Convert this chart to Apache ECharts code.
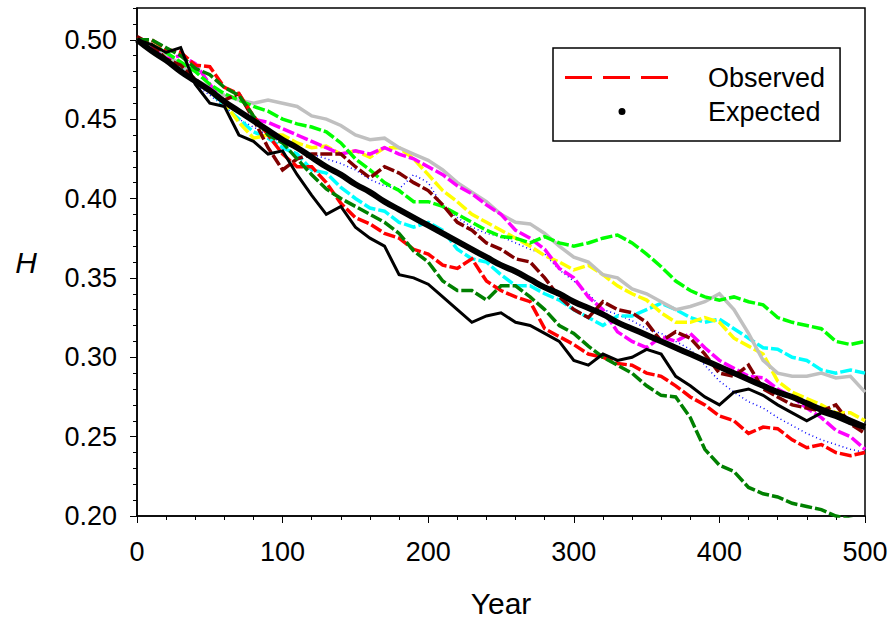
<!DOCTYPE html>
<html>
<head>
<meta charset="UTF-8">
<title>H over time</title>
<script src="https://cdn.jsdelivr.net/npm/echarts@6.0.0/dist/echarts.min.js"></script>
<style>
  html, body { margin: 0; padding: 0; background: #fff; }
  #main { width: 891px; height: 620px; }
</style>
</head>
<body>
<div id="main"></div>
<script>
var years = [0,10,20,30,40,50,60,70,80,90,100,110,120,130,140,150,160,170,180,190,200,
  210,220,230,240,250,260,270,280,290,300,310,320,330,340,350,360,370,380,390,400,
  410,420,430,440,450,460,470,480,490,500];

var expected = [0.500,0.493,0.487,0.480,0.474,0.468,0.461,0.455,0.449,0.443,0.437,0.432,0.426,0.420,0.415,0.409,0.404,0.398,0.393,0.388,0.383,
  0.378,0.373,0.368,0.363,0.358,0.354,0.349,0.344,0.340,0.335,0.331,0.327,0.322,0.318,0.314,0.310,0.306,0.302,0.298,0.294,
  0.290,0.286,0.282,0.278,0.275,0.271,0.267,0.264,0.260,0.256];

var obsRed = [0.500,0.500,0.494,0.492,0.484,0.483,0.470,0.466,0.452,0.440,0.428,0.420,0.420,0.410,0.397,0.388,0.384,0.378,0.375,0.368,0.365,
  0.358,0.356,0.362,0.348,0.342,0.338,0.335,0.318,0.313,0.308,0.302,0.300,0.296,0.295,0.290,0.288,0.282,0.275,0.270,0.263,
  0.260,0.252,0.256,0.255,0.248,0.243,0.245,0.240,0.238,0.240];
var obsDarkGreen = [0.500,0.500,0.495,0.490,0.482,0.478,0.470,0.465,0.452,0.440,0.435,0.425,0.415,0.406,0.400,0.395,0.390,0.385,0.378,0.367,0.360,
  0.348,0.342,0.342,0.336,0.345,0.345,0.338,0.330,0.320,0.315,0.307,0.300,0.295,0.290,0.282,0.276,0.275,0.262,0.242,0.232,
  0.228,0.218,0.214,0.212,0.208,0.206,0.204,0.200,0.198,0.196];
var obsLime = [0.500,0.497,0.492,0.486,0.480,0.472,0.466,0.462,0.458,0.455,0.450,0.447,0.445,0.442,0.435,0.425,0.418,0.410,0.405,0.398,0.398,
  0.395,0.390,0.385,0.380,0.376,0.375,0.372,0.376,0.372,0.370,0.372,0.375,0.377,0.372,0.365,0.357,0.348,0.342,0.338,0.336,
  0.338,0.335,0.333,0.325,0.322,0.320,0.318,0.310,0.308,0.310];
var obsGray = [0.500,0.495,0.490,0.485,0.475,0.470,0.465,0.462,0.460,0.462,0.460,0.458,0.452,0.450,0.446,0.440,0.437,0.438,0.432,0.428,0.424,
  0.418,0.410,0.404,0.398,0.390,0.385,0.384,0.378,0.370,0.363,0.360,0.352,0.350,0.343,0.340,0.335,0.330,0.332,0.335,0.340,
  0.330,0.315,0.298,0.290,0.288,0.288,0.290,0.287,0.288,0.278];
var obsYellow = [0.500,0.497,0.490,0.480,0.475,0.468,0.460,0.448,0.438,0.440,0.440,0.435,0.432,0.433,0.428,0.430,0.426,0.432,0.432,0.425,0.415,
  0.405,0.398,0.390,0.385,0.380,0.375,0.370,0.364,0.360,0.355,0.358,0.352,0.345,0.340,0.336,0.328,0.322,0.322,0.325,0.322,
  0.312,0.307,0.302,0.285,0.278,0.274,0.270,0.265,0.265,0.260];
var obsMagenta = [0.500,0.495,0.488,0.490,0.485,0.472,0.460,0.455,0.450,0.448,0.444,0.440,0.436,0.432,0.428,0.430,0.428,0.432,0.428,0.425,0.420,
  0.415,0.408,0.403,0.396,0.390,0.380,0.375,0.368,0.356,0.350,0.338,0.330,0.316,0.310,0.306,0.313,0.310,0.315,0.306,0.298,
  0.293,0.288,0.287,0.280,0.275,0.268,0.262,0.254,0.250,0.242];
var obsCyan = [0.500,0.497,0.490,0.482,0.475,0.468,0.458,0.450,0.442,0.438,0.432,0.428,0.418,0.416,0.407,0.400,0.394,0.392,0.385,0.382,0.385,
  0.380,0.368,0.362,0.360,0.352,0.345,0.345,0.340,0.336,0.330,0.325,0.320,0.326,0.326,0.330,0.334,0.330,0.325,0.322,0.324,
  0.318,0.312,0.306,0.305,0.300,0.298,0.292,0.290,0.292,0.290];
var obsMaroon = [0.502,0.497,0.488,0.484,0.475,0.468,0.462,0.466,0.450,0.432,0.418,0.425,0.428,0.428,0.428,0.420,0.413,0.420,0.416,0.410,0.405,
  0.396,0.385,0.380,0.372,0.368,0.362,0.360,0.350,0.338,0.330,0.325,0.335,0.330,0.328,0.322,0.310,0.316,0.312,0.302,0.290,
  0.288,0.295,0.280,0.275,0.270,0.268,0.266,0.270,0.258,0.252];
var obsBlack = [0.500,0.497,0.492,0.495,0.472,0.460,0.458,0.440,0.436,0.428,0.430,0.415,0.402,0.390,0.395,0.382,0.375,0.370,0.352,0.350,0.346,
  0.338,0.330,0.322,0.326,0.328,0.322,0.320,0.315,0.310,0.298,0.295,0.302,0.298,0.300,0.305,0.302,0.288,0.282,0.275,0.270,
  0.278,0.280,0.276,0.270,0.265,0.260,0.265,0.262,0.258,0.255];
var obsBlue = [0.500,0.495,0.488,0.480,0.472,0.465,0.458,0.450,0.445,0.440,0.435,0.432,0.428,0.425,0.422,0.418,0.412,0.408,0.406,0.415,0.410,
  0.395,0.388,0.382,0.378,0.376,0.372,0.368,0.365,0.355,0.348,0.340,0.330,0.327,0.323,0.318,0.315,0.310,0.305,0.295,0.285,
  0.278,0.272,0.268,0.262,0.257,0.252,0.248,0.245,0.242,0.240];

var yTicks = { min: 0.20, max: 0.52, step: 0.05, minorStep: 0.01 };
var xTicks = { min: 0, max: 500, step: 100 };

function pairs(vals) {
  return years.map(function (y, i) { return [y, vals[i]]; });
}

var font = 'Liberation Sans, Arial, sans-serif';
var dash = [12, 3];

function observed(name, vals, color, type, width) {
  return {
    name: name,
    type: 'line',
    symbol: 'none',
    data: pairs(vals),
    itemStyle: { color: color },
    lineStyle: { color: color, width: width || 3.5, type: type || dash, join: 'miter' },
    emphasis: { disabled: true },
    animation: false
  };
}

var chart = echarts.init(document.getElementById('main'), null, { renderer: 'svg' });

var option = {
  backgroundColor: '#fff',
  grid: {
    left: 137, right: 26, top: 8, bottom: 104,
    outerBoundsMode: 'none',
    show: true, borderColor: '#000', borderWidth: 1.5, backgroundColor: 'transparent'
  },
  legend: {
    orient: 'vertical',
    left: 553, top: 48,
    padding: [16, 15, 16, 12],
    itemGap: 7,
    itemWidth: 138, itemHeight: 14,
    borderColor: '#000', borderWidth: 1.5,
    selectedMode: false,
    itemStyle: { borderWidth: 0 },
    textStyle: { fontFamily: font, fontSize: 27, color: '#000' },
    data: [
      { name: 'Observed', icon: 'path://M0,0M138,14M0,5.5h27v3h-27zM38,5.5h27v3h-27zM76,5.5h27v3h-27z' },
      { name: 'Expected', icon: 'path://M0,0M138,14M53.5,7a3.5,3.5 0 1 0 7,0a3.5,3.5 0 1 0 -7,0z' }
    ]
  },
  xAxis: {
    type: 'value',
    min: xTicks.min, max: xTicks.max, interval: xTicks.step,
    name: 'Year', nameLocation: 'middle', nameGap: 72,
    nameTextStyle: { fontFamily: font, fontSize: 30, color: '#000' },
    axisLine: { lineStyle: { color: '#000', width: 1.5 } },
    axisTick: { length: 7, lineStyle: { color: '#000', width: 1 } },
    minorTick: { show: true, splitNumber: 5, length: 4, lineStyle: { color: '#000', width: 1 } },
    axisLabel: { margin: 22, fontFamily: font, fontSize: 27, color: '#000' },
    splitLine: { show: false }
  },
  yAxis: [
    {
      type: 'value',
      min: yTicks.min, max: yTicks.max, interval: yTicks.step,
      name: 'H', nameLocation: 'middle', nameRotate: 0, nameGap: 100,
      nameTextStyle: { fontFamily: font, fontSize: 30, fontStyle: 'italic', color: '#000' },
      axisLine: { show: true, lineStyle: { color: '#000', width: 1.5 } },
      axisTick: { show: true, length: 7, lineStyle: { color: '#000', width: 1 } },
      axisLabel: {
        margin: 20, fontFamily: font, fontSize: 27, color: '#000',
        showMaxLabel: false,
        formatter: function (v) { return v.toFixed(2); }
      },
      splitLine: { show: false }
    },
    {
      type: 'value', position: 'left',
      min: yTicks.min, max: yTicks.max, interval: yTicks.minorStep,
      axisLine: { show: false },
      axisTick: { show: true, length: 4, lineStyle: { color: '#000', width: 1 } },
      axisLabel: { show: false },
      splitLine: { show: false }
    }
  ],
  series: [
    observed('Observed 9', obsBlue, '#0000ff', [1, 3], 1.5),
    observed('Observed 6', obsCyan, '#00ffff'),
    observed('Observed 4', obsYellow, '#ffff00'),
    observed('Observed 3', obsGray, '#c0c0c0', 'solid'),
    observed('Observed 5', obsMagenta, '#ff00ff'),
    observed('Observed 2', obsLime, '#00ff00'),
    observed('Observed 7', obsMaroon, '#800000'),
    observed('Observed', obsRed, '#ff0000'),
    observed('Observed 1', obsDarkGreen, '#008000'),
    observed('Observed 8', obsBlack, '#000000', 'solid', 3),
    {
      name: 'Expected',
      type: 'line',
      symbol: 'none',
      smooth: true,
      data: pairs(expected),
      itemStyle: { color: '#000' },
      lineStyle: { color: '#000', width: 6 },
      emphasis: { disabled: true },
      animation: false
    }
  ]
};

chart.setOption(option);
</script>
</body>
</html>
